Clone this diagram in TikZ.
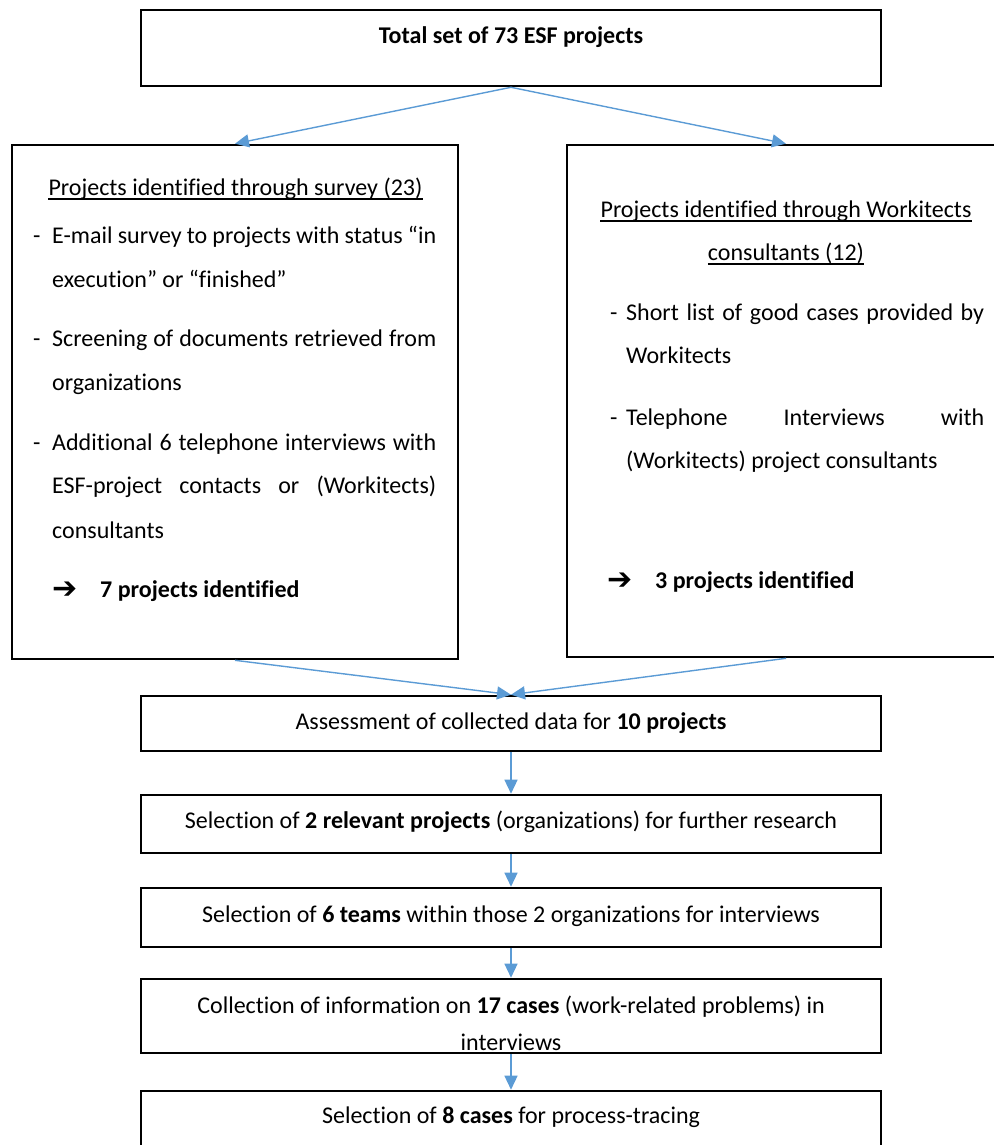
\documentclass[tikz,border=0pt]{standalone}
\usepackage{fontspec}
\setmainfont{Carlito}[Ligatures=NoCommon]
\newfontfamily\symfont{DejaVu Sans}
\usepackage{xcolor}
\usepackage{tikz}
\usetikzlibrary{arrows.meta}
\definecolor{arrblue}{HTML}{5B9BD5}

\begin{document}
\begin{tikzpicture}[x=1pt,y=-1pt,font=\fontsize{24}{29}\selectfont,
  box/.style={draw=black,line width=2.6pt,inner sep=0pt},
  txt/.style={inner sep=0pt,anchor=base west},
  mid/.style={inner sep=0pt,anchor=base},
  arr/.style={draw=arrblue,line width=1.4pt,-{Triangle[length=14pt,width=13pt]}}]
\useasboundingbox (0,0) rectangle (993,1145);
\node[box,minimum width=740pt,minimum height=76pt] (T) at (511,48) {};
\node[box,minimum width=446pt,minimum height=514pt] (S) at (235,402) {};
\node[box,minimum width=438pt,minimum height=512pt] (W) at (786,401) {};
\node[box,minimum width=740pt,minimum height=55pt] (A) at (511,723.5) {};
\node[box,minimum width=740pt,minimum height=58pt] (R) at (511,824) {};
\node[box,minimum width=740pt,minimum height=59pt] (M) at (511,917.5) {};
\node[box,minimum width=740pt,minimum height=74pt] (C) at (511,1016) {};
\node[box,minimum width=740pt,minimum height=74pt] (P) at (511,1128) {};
\node[mid] (TT) at (511,44) {\textbf{Total set of 73 ESF projects}};
\node[mid] (SH) at (235.5,195) {Projects identified through survey (23)};
\node[txt] (SD1) at (33,243) {-};
\node[txt] (S1) at (52,243) {\makebox[384pt][s]{E-mail survey to projects with status “in}};
\node[txt] (S2) at (52,287) {execution” or “finished”};
\node[txt] (SD2) at (33,346) {-};
\node[txt] (S3) at (52,346) {\makebox[384pt][s]{Screening of documents retrieved from}};
\node[txt] (S4) at (52,390) {organizations};
\node[txt] (SD3) at (33,450) {-};
\node[txt] (S5) at (52,450) {\makebox[384pt][s]{Additional 6 telephone interviews with}};
\node[txt] (S6) at (52,493) {\makebox[384pt][s]{ESF-project contacts or (Workitects)}};
\node[txt] (S7) at (52,538) {consultants};
\node[txt] (SA) at (52,598) {\fontsize{30}{30}\symfont\bfseries ➔};
\node[txt] (SR) at (100,597) {\textbf{7 projects identified}};
\node[mid] (WH1) at (786,217) {Projects identified through Workitects};
\node[mid] (WH2) at (786,260) {consultants (12)};
\node[txt] (WD1) at (610,320) {-};
\node[txt] (W1) at (626,320) {\makebox[358pt][s]{Short list of good cases provided by}};
\node[txt] (W2) at (626,363) {Workitects};
\node[txt] (WD2) at (610,425) {-};
\node[txt] (W3) at (626,425) {\makebox[358pt][s]{Telephone Interviews with}};
\node[txt] (W4) at (626,468) {(Workitects) project consultants};
\node[txt] (WA) at (607,589) {\fontsize{30}{30}\symfont\bfseries ➔};
\node[txt] (WR) at (655,588) {\textbf{3 projects identified}};
\node[mid] (AT) at (511,729) {Assessment of collected data for \textbf{10 projects}};
\node[mid] (RT) at (511,828) {Selection of \textbf{2 relevant projects} (organizations) for further research};
\node[mid] (MT) at (511,922) {Selection of \textbf{6 teams} within those 2 organizations for interviews};
\node[mid] (CT1) at (511,1013) {Collection of information on \textbf{17 cases} (work-related problems) in};
\node[mid] (CT2) at (511,1050) {interviews};
\node[mid] (PT) at (511,1123) {Selection of \textbf{8 cases} for process-tracing};
\foreach \n in {SH,WH1,WH2}
  \draw[line width=1.3pt] ([yshift=-4pt]\n.base west) -- ([yshift=-4pt]\n.base east);
\draw[arr] (T.south) -- (S.north);
\draw[arr] (T.south) -- (W.north);
\draw[arr] (S.south) -- (A.north);
\draw[arr] (W.south) -- (A.north);
\draw[arr] (A.south) -- (R.north);
\draw[arr] (R.south) -- (M.north);
\draw[arr] (M.south) -- (C.north);
\draw[arr] (C.south) -- (P.north);
\end{tikzpicture}
\end{document}
